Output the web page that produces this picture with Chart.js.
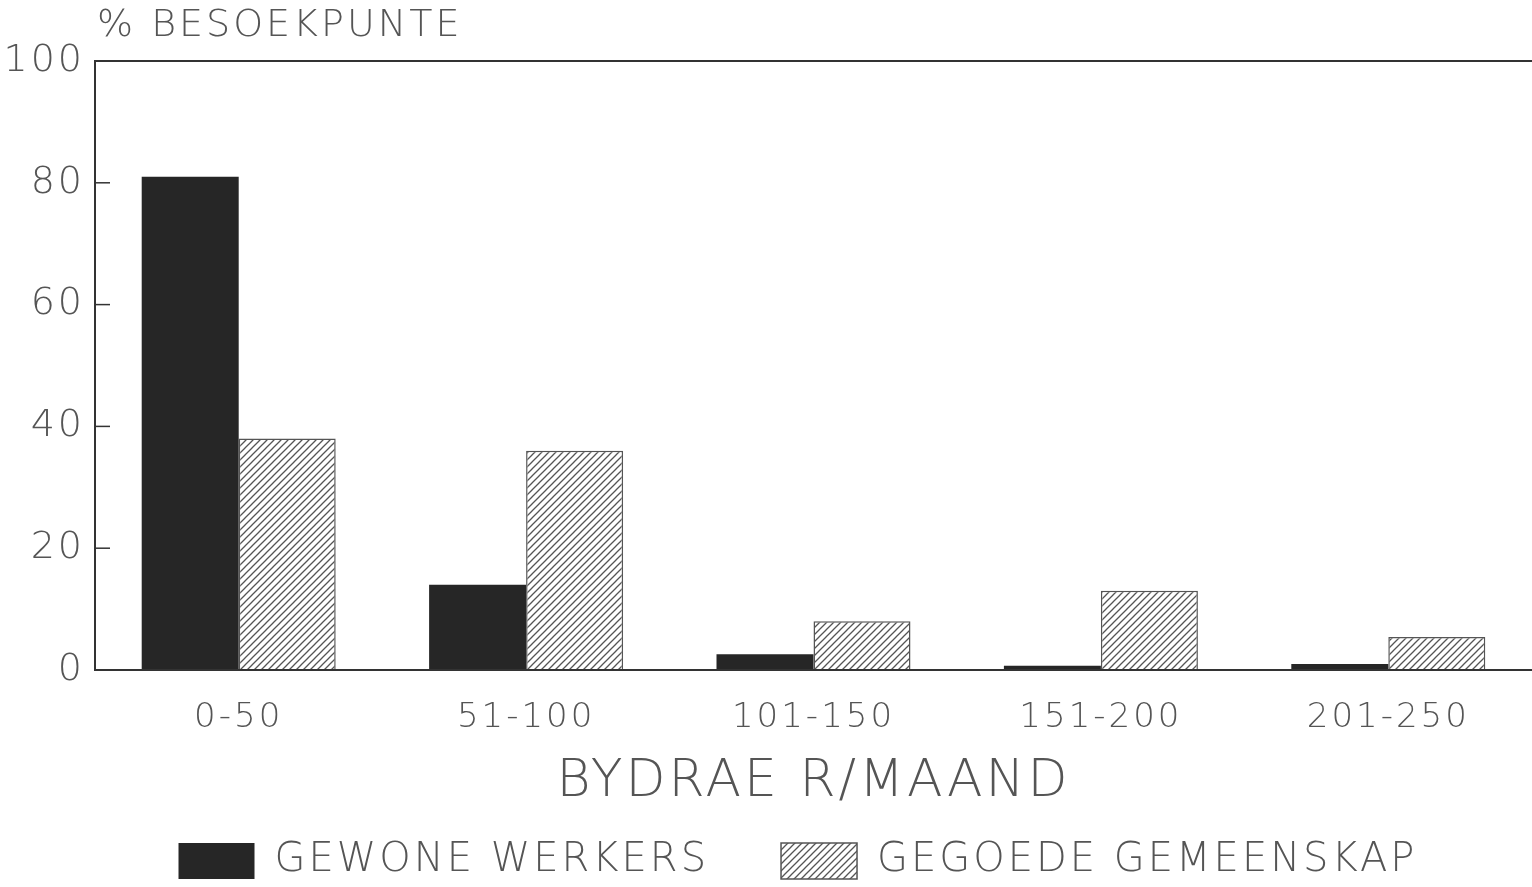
<!DOCTYPE html>
<html>
<head>
<meta charset="utf-8">
<script src="https://cdn.jsdelivr.net/npm/chart.js@4.4.1/dist/chart.umd.min.js"></script>
<style>
  html, body { margin: 0; padding: 0; background: #fff; }
  #wrap { width: 1532px; height: 887px; }
</style>
</head>
<body>
<div id="wrap"><canvas id="chart"></canvas></div>
<script>
// 資料
const categories = ['0-50', '51-100', '101-150', '151-200', '201-250'];
const gewoneWerkers = [81, 14, 2.6, 0.7, 1.0];
const gegoedeGemeenskap = [38, 36, 8, 13, 5.4];
const yTicks = [0, 20, 40, 60, 80, 100];
const seriesNames = ['GEWONE WERKERS', 'GEGOEDE GEMEENSKAP'];
const yTitle = '% BESOEKPUNTE';
const xTitle = 'BYDRAE R/MAAND';

const FONT = '"DejaVu Sans", sans-serif';
const TEXT = '#555';
const INK = '#333';

const canvas = document.getElementById('chart');

// 斜線圖樣
function makeHatch() {
    const c = document.createElement('canvas');
    c.width = 7; c.height = 7;
    const g = c.getContext('2d');
    g.fillStyle = '#fff';
    g.fillRect(0, 0, 7, 7);
    g.strokeStyle = '#555';
    g.lineWidth = 1.3;
    g.beginPath();
    g.moveTo(-1, 8); g.lineTo(8, -1);
    g.moveTo(-1, 1); g.lineTo(1, -1);
    g.moveTo(6, 8); g.lineTo(8, 6);
    g.stroke();
    return canvas.getContext('2d').createPattern(c, 'repeat');
}
const hatch = makeHatch();

const spacing = {
    id: 'spacing',
    beforeUpdate(chart) { chart.ctx.letterSpacing = '3px'; },
    beforeDraw(chart) { chart.ctx.letterSpacing = '3px'; },
    afterLayout(chart) {
        // 圖例整體往右移
        chart.legend.left += 32;
        chart.legend.right += 32;
    }
};

// 內側刻度與 y 軸標題
const innerTicks = {
    id: 'innerTicks',
    afterDraw(chart) {
        const { ctx, chartArea, scales: { y } } = chart;
        ctx.save();
        ctx.strokeStyle = INK;
        ctx.lineWidth = 1.5;
        yTicks.forEach(v => {
            if (v > 0 && v < 100) {
                const py = y.getPixelForValue(v);
                ctx.beginPath();
                ctx.moveTo(chartArea.left, py);
                ctx.lineTo(chartArea.left + 15, py);
                ctx.stroke();
            }
        });
        ctx.letterSpacing = '3px';
        ctx.font = '200 38px ' + FONT;
        ctx.fillStyle = TEXT;
        ctx.textBaseline = 'middle';
        ctx.textAlign = 'left';
        ctx.fillText(yTitle, chartArea.left + 2, 26);
        ctx.restore();
    }
};

new Chart(canvas, {
    type: 'bar',
    data: {
        labels: categories,
        datasets: [{
            label: seriesNames[0],
            data: gewoneWerkers,
            backgroundColor: '#262626',
            borderColor: '#262626',
            borderWidth: 0
        }, {
            label: seriesNames[1],
            data: gegoedeGemeenskap,
            backgroundColor: hatch,
            borderColor: '#555',
            borderWidth: 1.5
        }]
    },
    options: {
        responsive: true,
        maintainAspectRatio: false,
        animation: false,
        layout: { padding: { top: 61, left: 0, right: 0, bottom: -4 } },
        datasets: { bar: { barPercentage: 1, categoryPercentage: 0.675 } },
        plugins: {
            title: { display: false },
            tooltip: { enabled: false },
            legend: {
                position: 'bottom',
                labels: {
                    boxWidth: 76,
                    boxHeight: 36,
                    padding: 72,
                    color: TEXT,
                    font: { family: FONT, size: 40, weight: 200 }
                }
            }
        },
        scales: {
            x: {
                grid: { display: false, drawTicks: false },
                border: { display: true, color: INK, width: 2 },
                ticks: {
                    color: TEXT,
                    padding: 28,
                    font: { family: FONT, size: 34, weight: 200 }
                },
                title: {
                    display: true,
                    text: xTitle,
                    color: TEXT,
                    padding: { top: 0, bottom: -45 },
                    font: { family: FONT, size: 52, weight: 200 }
                },
                afterFit(scale) { scale.height = 99; }
            },
            y: {
                min: 0,
                max: 100,
                grid: {
                    drawTicks: false,
                    lineWidth: 2,
                    color: ctx => ctx.tick && ctx.tick.value === 100 ? INK : 'rgba(0,0,0,0)'
                },
                border: { display: true, color: INK, width: 2 },
                ticks: {
                    stepSize: 20,
                    color: TEXT,
                    padding: 10,
                    font: { family: FONT, size: 38, weight: 200 }
                },
                afterFit(scale) { scale.width = 95; }
            }
        }
    },
    plugins: [spacing, innerTicks]
});
</script>
</body>
</html>
